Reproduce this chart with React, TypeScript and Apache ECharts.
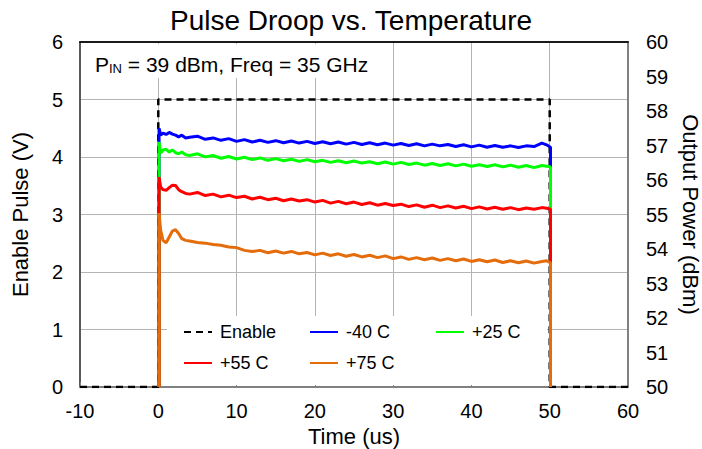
import React, { useEffect, useRef } from "react";
import * as echarts from "echarts";

const FONT = "Liberation Sans, Arial, sans-serif";

const titleText = "Pulse Droop vs. Temperature";
const xTicks = { min: -10, max: 60, step: 10 };
const leftTicks = { min: 0, max: 6, step: 1 };
const rightTicks = { min: 50, max: 60, step: 1 };

const seriesNames = ["Enable", "-40 C", "+25 C", "+55 C", "+75 C"];
const seriesColors = ["#000000", "#0000ff", "#00ff00", "#ff0000", "#e46c0a"];

const enableTime = [-10, 0, 0, 50, 50, 60];
const enableVolt = [0, 0, 5, 5, 0, 0];

const timeUs = [
  0.1, 0.1, 0.3, 0.6, 1.0, 1.4, 1.8, 2.2, 2.6, 3.0,
  3.5, 4, 5, 6, 7, 8, 9, 10, 11, 12,
  13, 14, 15, 16, 17, 18, 19, 20, 21, 22,
  23, 24, 25, 26, 27, 28, 29, 30, 31, 32,
  33, 34, 35, 36, 37, 38, 39, 40, 41, 42,
  43, 44, 45, 46, 47, 48, 49, 49.6, 50.1, 50.1,
];

const pM40 = [
  50, 57.5, 57.3, 57.36, 57.32, 57.38, 57.33, 57.3, 57.25, 57.3,
  57.22, 57.24, 57.27, 57.18, 57.22, 57.15, 57.2, 57.12, 57.17, 57.1,
  57.15, 57.09, 57.14, 57.08, 57.13, 57.07, 57.12, 57.06, 57.11, 57.05,
  57.1, 57.04, 57.09, 57.03, 57.08, 57.02, 57.07, 57.01, 57.06, 57.0,
  57.05, 56.99, 57.04, 56.99, 57.03, 56.97, 57.02, 56.96, 57.01, 56.95,
  57.0, 56.95, 56.99, 56.94, 56.99, 56.97, 57.07, 57.02, 56.95, 50,
];

const p25 = [
  50, 57.1, 56.78, 56.87, 56.89, 56.81, 56.87, 56.79, 56.76, 56.81,
  56.73, 56.71, 56.76, 56.67, 56.71, 56.63, 56.68, 56.61, 56.66, 56.59,
  56.64, 56.57, 56.62, 56.56, 56.6, 56.54, 56.59, 56.53, 56.57, 56.51,
  56.56, 56.5, 56.55, 56.49, 56.53, 56.47, 56.52, 56.46, 56.51, 56.45,
  56.49, 56.43, 56.48, 56.42, 56.47, 56.41, 56.46, 56.4, 56.44, 56.39,
  56.44, 56.38, 56.43, 56.37, 56.42, 56.36, 56.42, 56.4, 56.38, 50,
];

const p55 = [
  50, 56.09, 55.8, 55.72, 55.7, 55.78, 55.85, 55.84, 55.72, 55.66,
  55.61, 55.59, 55.64, 55.55, 55.59, 55.51, 55.56, 55.49, 55.53, 55.45,
  55.5, 55.43, 55.47, 55.4, 55.45, 55.39, 55.43, 55.36, 55.41, 55.33,
  55.38, 55.31, 55.36, 55.29, 55.34, 55.27, 55.32, 55.26, 55.3, 55.23,
  55.28, 55.21, 55.27, 55.2, 55.25, 55.19, 55.24, 55.17, 55.22, 55.16,
  55.21, 55.15, 55.2, 55.14, 55.19, 55.15, 55.2, 55.18, 55.15, 50,
];

const p75 = [
  50, 55.04, 54.55, 54.25, 54.18, 54.35, 54.52, 54.56, 54.45, 54.3,
  54.25, 54.23, 54.19, 54.17, 54.13, 54.11, 54.06, 54.04, 53.96, 53.93,
  53.96, 53.89, 53.94, 53.88, 53.93, 53.86, 53.9, 53.83, 53.88, 53.81,
  53.86, 53.79, 53.84, 53.77, 53.82, 53.75, 53.8, 53.72, 53.77, 53.7,
  53.75, 53.69, 53.74, 53.67, 53.72, 53.66, 53.71, 53.64, 53.69, 53.63,
  53.68, 53.61, 53.66, 53.6, 53.65, 53.59, 53.64, 53.66, 53.6, 50,
];

const traces = [pM40, p25, p55, p75];

const zip = (xs: number[], ys: number[]) => xs.map((x, i) => [x, ys[i]]);

export default function App() {
  const ref = useRef<HTMLDivElement>(null);
  useEffect(() => {
    if (!ref.current) return;
    const chart = echarts.init(ref.current, undefined, { renderer: "svg", width: 702, height: 449 });

    const legendPos = [
      { left: 183, top: 323 },
      { left: 309, top: 323 },
      { left: 435, top: 323 },
      { left: 183, top: 354 },
      { left: 309, top: 354 },
    ];

    const series: any[] = [
      {
        name: seriesNames[0],
        type: "line",
        xAxisIndex: 0,
        yAxisIndex: 0,
        data: zip(enableTime, enableVolt),
        symbol: "none",
        showSymbol: false,
        lineStyle: { color: seriesColors[0], width: 2.5, type: [7, 5] },
        itemStyle: { color: seriesColors[0] },
        z: 2,
      },
      ...traces.map((arr, i) => ({
        name: seriesNames[i + 1],
        type: "line",
        xAxisIndex: 0,
        yAxisIndex: 1,
        data: zip(timeUs, arr),
        symbol: "none",
        showSymbol: false,
        lineStyle: { color: seriesColors[i + 1], width: 3 },
        itemStyle: { color: seriesColors[i + 1] },
        z: 3 + i,
      })),
    ];

    chart.setOption({
      animation: false,
      backgroundColor: "#ffffff",
      title: {
        text: titleText,
        left: "center",
        top: 1,
        textStyle: { fontFamily: FONT, fontSize: 28, fontWeight: "normal", color: "#000" },
      },
      grid: { left: 80, right: 74, top: 42, bottom: 62, containLabel: false, outerBoundsMode: "none" },
      legend: seriesNames.map((n, i) => ({
        data: [n],
        left: legendPos[i].left,
        top: legendPos[i].top,
        padding: 0,
        itemWidth: 28,
        itemHeight: 14,
        itemStyle: { opacity: 0 },
        textStyle: { fontFamily: FONT, fontSize: 18, color: "#000", padding: [0, 0, 0, 3] },
        selectedMode: false,
        z: 10,
      })),
      xAxis: [
        {
          type: "value",
          min: xTicks.min,
          max: xTicks.max,
          interval: xTicks.step,
          position: "bottom",
          name: "Time (us)",
          nameLocation: "middle",
          nameGap: 38,
          nameTextStyle: { fontFamily: FONT, fontSize: 22, color: "#000" },
          axisLine: { show: true, onZero: false, lineStyle: { color: "#808080", width: 2 } },
          axisTick: { show: true, inside: true, length: 5, lineStyle: { color: "#808080" } },
          axisLabel: { fontFamily: FONT, fontSize: 20, color: "#000", margin: 14 },
          splitLine: { show: true, lineStyle: { color: "#b4b4b4", width: 1 } },
        },
        {
          type: "value",
          min: xTicks.min,
          max: xTicks.max,
          interval: xTicks.step,
          position: "top",
          axisLine: { show: true, onZero: false, lineStyle: { color: "#1a1a1a", width: 2 } },
          axisTick: { show: false },
          axisLabel: { show: false },
          splitLine: { show: false },
        },
      ],
      yAxis: [
        {
          type: "value",
          min: leftTicks.min,
          max: leftTicks.max,
          interval: leftTicks.step,
          position: "left",
          name: "Enable Pulse (V)",
          nameLocation: "middle",
          nameGap: 49,
          nameTextStyle: { fontFamily: FONT, fontSize: 22, color: "#000" },
          axisLine: { show: true, onZero: false, lineStyle: { color: "#595959", width: 2 } },
          axisTick: { show: false },
          axisLabel: { fontFamily: FONT, fontSize: 20, color: "#000", margin: 17 },
          splitLine: { show: true, lineStyle: { color: "#b4b4b4", width: 1 } },
        },
        {
          type: "value",
          min: rightTicks.min,
          max: rightTicks.max,
          interval: rightTicks.step,
          position: "right",
          name: "Output Power (dBm)",
          nameLocation: "middle",
          nameRotate: -90,
          nameGap: 46,
          nameTextStyle: { fontFamily: FONT, fontSize: 22, color: "#000" },
          axisLine: { show: true, onZero: false, lineStyle: { color: "#808080", width: 2 } },
          axisTick: { show: false },
          axisLabel: { fontFamily: FONT, fontSize: 20, color: "#000", margin: 18 },
          splitLine: { show: false },
        },
      ],
      graphic: [
        {
          type: "rect",
          z: 1,
          silent: true,
          shape: { x: 82, y: 44, width: 302, height: 34 },
          style: { fill: "#ffffff" },
        },
        {
          type: "rect",
          z: 1,
          silent: true,
          shape: { x: 167, y: 316, width: 380, height: 69 },
          style: { fill: "#ffffff" },
        },
        {
          type: "text",
          z: 5,
          x: 95,
          y: 63,
          style: {
            text: "{a|P}{b|IN}{a| = 39 dBm, Freq = 35 GHz}",
            verticalAlign: "middle",
            rich: {
              a: { fontFamily: FONT, fontSize: 21, fill: "#000", lineHeight: 24, verticalAlign: "bottom" },
              b: { fontFamily: FONT, fontSize: 13, fill: "#000", lineHeight: 24, verticalAlign: "bottom" },
            },
          },
        },
      ],
      series,
    });
    return () => chart.dispose();
  }, []);
  return (
    <div
      ref={ref}
      style={{ position: "fixed", left: 0, top: 0, width: 702, height: 449, background: "#fff" }}
    />
  );
}
